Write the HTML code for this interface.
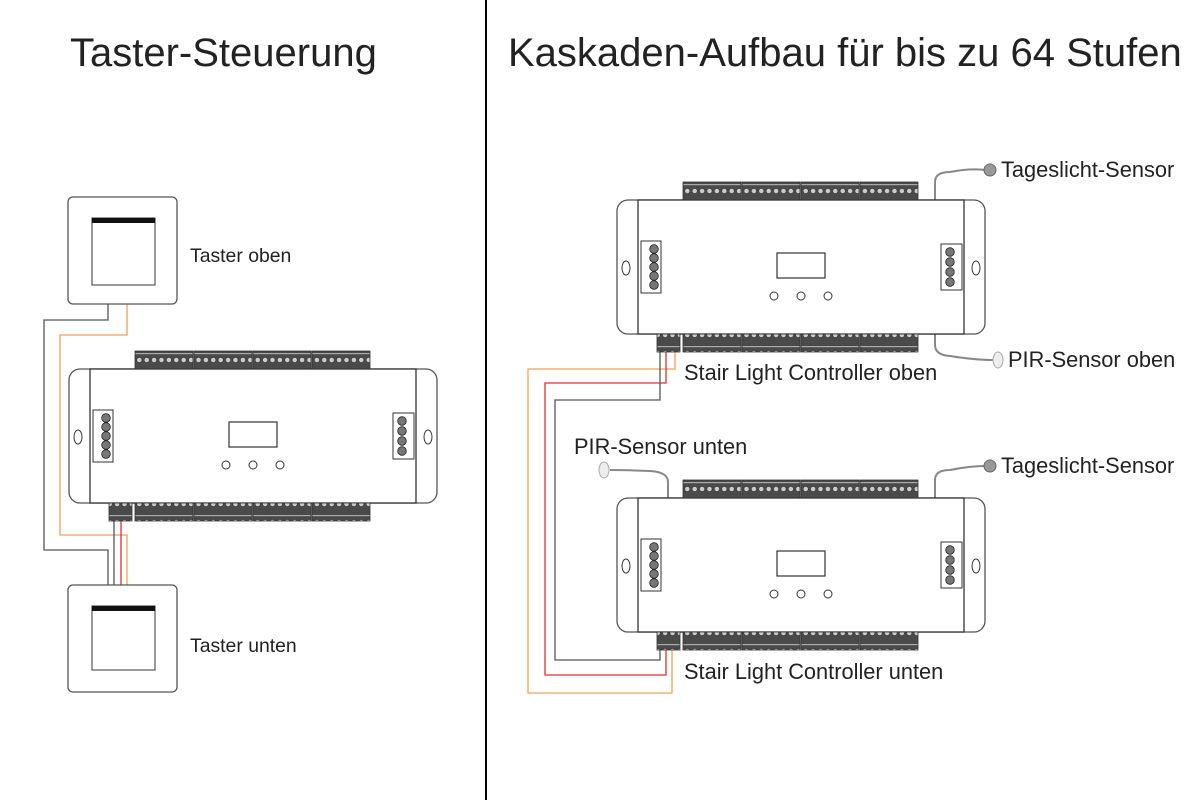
<!DOCTYPE html>
<html><head><meta charset="utf-8"><style>body{margin:0;background:#fff}svg{display:block}text{font-family:"Liberation Sans",sans-serif;fill:#222}</style></head><body>
<svg width="1200" height="800" viewBox="0 0 1200 800">
<defs>
<pattern id="tp" width="7.4" height="18" patternUnits="userSpaceOnUse">
<rect width="7.4" height="18" fill="#4a4a4a"/><circle cx="3.7" cy="9" r="2.6" fill="#ccc" stroke="#333" stroke-width=".6"/><rect x="0" y="2" width="7.4" height="1.2" fill="#aaa"/>
</pattern>
<g id="ctl">
<rect x="0" y="0" width="368" height="134" rx="11" fill="#fff" stroke="#555" stroke-width="1.3"/>
<rect x="21" y="0" width="326" height="134" fill="#fff" stroke="#333" stroke-width="1.3"/>
<g fill="url(#tp)" stroke="#333" stroke-width=".8">
<rect x="66" y="-18" width="58" height="18"/><rect x="125" y="-18" width="58" height="18"/><rect x="184" y="-18" width="58" height="18"/><rect x="243" y="-18" width="58" height="18"/>
<rect x="40" y="134" width="23" height="18"/>
<rect x="66" y="134" width="58" height="18"/><rect x="125" y="134" width="58" height="18"/><rect x="184" y="134" width="58" height="18"/><rect x="243" y="134" width="58" height="18"/>
</g>
<rect x="24" y="41" width="20" height="52" fill="#fff" stroke="#333"/>
<g fill="#777" stroke="#222" stroke-width=".8"><circle cx="37" cy="49" r="4.3"/><circle cx="37" cy="58" r="4.3"/><circle cx="37" cy="67" r="4.3"/><circle cx="37" cy="76" r="4.3"/><circle cx="37" cy="85" r="4.3"/></g>
<rect x="324" y="44" width="21" height="46" fill="#fff" stroke="#333"/>
<g fill="#777" stroke="#222" stroke-width=".8"><circle cx="333" cy="52" r="4.3"/><circle cx="333" cy="62" r="4.3"/><circle cx="333" cy="72" r="4.3"/><circle cx="333" cy="82" r="4.3"/></g>
<rect x="160" y="53" width="48" height="25" fill="#fff" stroke="#333" stroke-width="1.2"/>
<g fill="#fff" stroke="#333"><circle cx="157" cy="96" r="4"/><circle cx="184" cy="96" r="4"/><circle cx="211" cy="96" r="4"/>
<ellipse cx="9" cy="68" rx="4" ry="7"/><ellipse cx="359" cy="68" rx="4" ry="7"/></g>
</g>
</defs>
<line x1="486" y1="0" x2="486" y2="800" stroke="#000" stroke-width="2"/>
<text x="70" y="66" font-size="40">Taster-Steuerung</text>
<text x="508" y="66" font-size="40">Kaskaden-Aufbau für bis zu 64 Stufen</text>

<g fill="none" stroke-width="1.3">
<polyline points="108,304 108,320 44,320 44,550 108,550 108,585" stroke="#555"/>
<polyline points="127,304 127,335 60,335 60,535 127,535 127,585" stroke="#f0a050"/>
<polyline points="121,521 121,585" stroke="#e03030"/>
<polyline points="114,521 114,585" stroke="#555"/>
</g>
<rect x="68" y="197" width="109" height="107" rx="5" fill="#fff" stroke="#555" stroke-width="1.3"/>
<rect x="92" y="218" width="63" height="67" fill="#fff" stroke="#333"/><rect x="92" y="218" width="63" height="5" fill="#111"/>
<rect x="68" y="585" width="109" height="107" rx="5" fill="#fff" stroke="#555" stroke-width="1.3"/>
<rect x="92" y="606" width="63" height="64" fill="#fff" stroke="#333"/><rect x="92" y="606" width="63" height="5" fill="#111"/>
<text x="190" y="262" font-size="19.4">Taster oben</text>
<text x="190" y="652" font-size="19.4">Taster unten</text>
<use href="#ctl" x="69" y="369"/>

<g fill="none" stroke-width="1.3">
<polyline points="675,350 675,369 528,369 528,693 672,693 672,650" stroke="#f0a050"/>
<polyline points="666,350 666,383 545,383 545,675 666,675 666,650" stroke="#e03030"/>
<polyline points="660,350 660,400 555,400 555,660 660,660 660,650" stroke="#555"/>
</g>
<g fill="none" stroke="#888" stroke-width="2">
<path d="M935,200 V182 Q935,172 950,172 Q970,168 985,170"/>
<path d="M935,333 V345 Q935,355 950,356 Q975,360 993,360"/>
<path d="M935,498 V480 Q935,470 950,470 Q970,466 985,466"/>
<path d="M668,498 V482 Q668,472 650,471 Q625,470 610,470"/>
</g>
<g fill="#999" stroke="#666"><circle cx="990" cy="170" r="6"/><circle cx="990" cy="466" r="6"/></g>
<g fill="#eee" stroke="#aaa"><ellipse cx="998" cy="360" rx="5" ry="8"/><ellipse cx="604" cy="470" rx="5" ry="8"/></g>
<use href="#ctl" x="617" y="200"/>
<use href="#ctl" x="617" y="498"/>
<text x="1001" y="177" font-size="21.8">Tageslicht-Sensor</text>
<text x="1001" y="473" font-size="21.8">Tageslicht-Sensor</text>
<text x="1008" y="367" font-size="21.8">PIR-Sensor oben</text>
<text x="574" y="454" font-size="21.8">PIR-Sensor unten</text>
<text x="684" y="380" font-size="21.8">Stair Light Controller oben</text>
<text x="684" y="679" font-size="21.8">Stair Light Controller unten</text>
</svg>
</body></html>
